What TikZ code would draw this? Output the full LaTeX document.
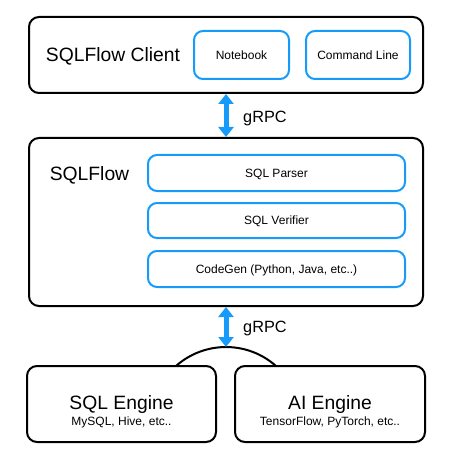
\documentclass[tikz,border=0pt]{standalone}
\usepackage{fontspec}
\setmainfont{Liberation Sans}
\usetikzlibrary{arrows.meta}
\definecolor{fblue}{RGB}{22,155,250}
\begin{document}
\begin{tikzpicture}[x=1pt,y=-1pt,
  bbox/.style={draw=black,line width=2pt,rounded corners=10pt,inner sep=0pt},
  blbox/.style={draw=fblue,line width=2pt,rounded corners=9pt,inner sep=0pt,
    font=\fontsize{12}{14}\selectfont,text height=8.6pt,text depth=0pt},
  bigtxt/.style={font=\fontsize{19.3}{22}\selectfont,anchor=base,inner sep=0pt},
  smalltxt/.style={font=\fontsize{12}{14}\selectfont,anchor=base,inner sep=0pt},
  rpctxt/.style={font=\fontsize{16.3}{19}\selectfont,anchor=base west,inner sep=0pt},
  rpc/.style={draw=fblue,line width=5pt,
    {Triangle[width=15pt,length=10pt]}-{Triangle[width=15pt,length=10pt]}}]
\useasboundingbox (0,0) rectangle (462,470);

% client
\node[bbox,minimum width=394pt,minimum height=76pt] (client) at (226,55) {};
\node[bigtxt] (clientlbl) at (113,62) {SQLFlow Client};
\node[blbox,minimum width=95pt,minimum height=48pt] (nb) at (241.5,55) {Notebook};
\node[blbox,minimum width=104pt,minimum height=48pt] (cl) at (358,55) {Command Line};

% sqlflow
\node[bbox,minimum width=394pt,minimum height=168pt] (flow) at (226,222) {};
\node[bigtxt] (flowlbl) at (89.5,180) {SQLFlow};
\node[blbox,minimum width=257pt,minimum height=36pt] (parser) at (276.5,173) {SQL Parser};
\node[blbox,minimum width=257pt,minimum height=35pt] (verifier) at (276.5,220.5) {SQL Verifier};
\node[blbox,minimum width=257pt,minimum height=36pt] (codegen) at (276.5,269) {CodeGen (Python, Java, etc..)};

% engines
\node[bbox,minimum width=189pt,minimum height=76pt] (sqle) at (121.5,404) {};
\node[bigtxt] (sqlelbl) at (121.5,409) {SQL Engine};
\node[smalltxt] (sqlesub) at (121.5,425) {MySQL, Hive, etc..};
\node[bbox,minimum width=190pt,minimum height=76pt] (aie) at (330,404) {};
\node[bigtxt] (aielbl) at (330,409) {AI Engine};
\node[smalltxt] (aiesub) at (330,425) {TensorFlow, PyTorch, etc..};

% joining arc
\coordinate (arcl) at (176,366);
\coordinate (arcr) at (276,366);
\coordinate (apex) at (226,347);
\draw[line width=2pt] (arcl) .. controls (204.5,340.7) and (247.5,340.7) .. (arcr);

% rpc arrows
\draw[rpc] (client) -- (flow);
\node[rpctxt] (rpc1) at (243,123) {gRPC};
\draw[rpc] (flow.south) -- (apex);
\node[rpctxt] (rpc2) at (243,332) {gRPC};
\end{tikzpicture}
\end{document}
